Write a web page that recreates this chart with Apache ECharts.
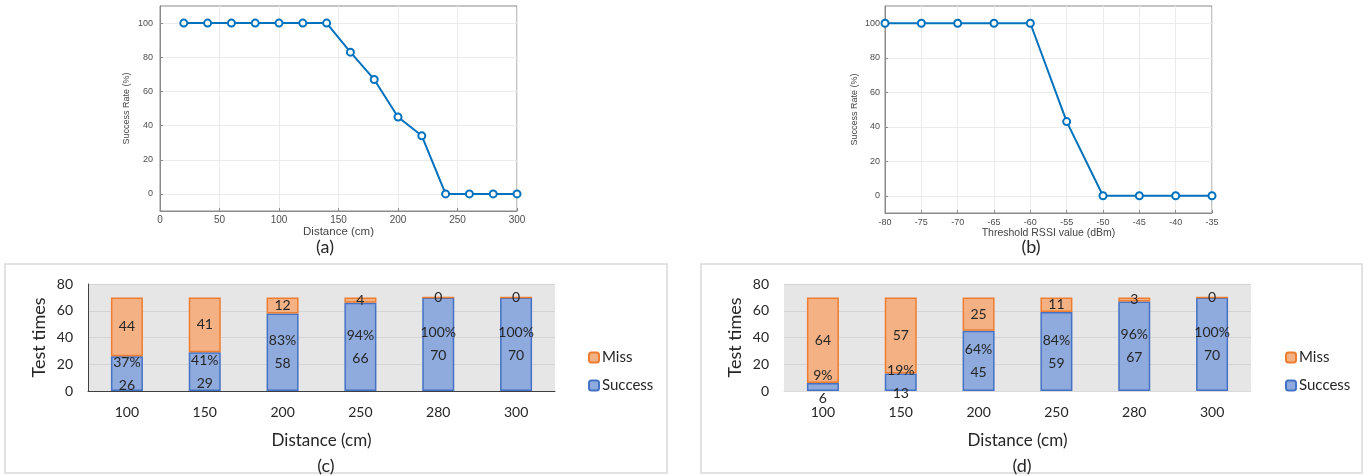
<!DOCTYPE html>
<html>
<head>
<meta charset="utf-8">
<script src="https://cdn.jsdelivr.net/npm/echarts@6/dist/echarts.min.js"></script>
<style>html,body{margin:0;padding:0;background:#fff}#c{width:1369px;height:476px}</style>
</head>
<body>
<div id="c"></div>
<script>
// (a) success rate vs distance
const distA = [20, 40, 60, 80, 100, 120, 140, 160, 180, 200, 220, 240, 260, 280, 300];
const rateA = [100, 100, 100, 100, 100, 100, 100, 83, 67, 45, 34, 0, 0, 0, 0];
const xTicksA = { min: 0, max: 300, interval: 50 };
// (b) success rate vs threshold RSSI
const rssiB = [-80, -75, -70, -65, -60, -55, -50, -45, -40, -35];
const rateB = [100, 100, 100, 100, 100, 43, 0, 0, 0, 0];
const xTicksB = { min: -80, max: -35, interval: 5 };
const rateTicks = [0, 20, 40, 60, 80, 100];
// (c) and (d) test times
const catsCD = ['100', '150', '200', '250', '280', '300'];
const successC = [26, 29, 58, 66, 70, 70];
const missC = [44, 41, 12, 4, 0, 0];
const successD = [6, 13, 45, 59, 67, 70];
const missD = [64, 57, 25, 11, 3, 0];

const chart = echarts.init(document.getElementById('c'));
const mFont = 'Liberation Sans';
const xFont = 'Lato';
const lineColor = '#0072BD';

function topX(gi, t, name, gap, lblMargin, nameSize, tickSize) {
  return {
    gridIndex: gi, type: 'value', min: t.min, max: t.max, interval: t.interval,
    name: name, nameLocation: 'middle', nameGap: gap,
    nameTextStyle: { fontFamily: mFont, fontSize: nameSize, color: '#444' },
    axisLine: { show: true, onZero: false, lineStyle: { color: '#8a8a8a', width: 1 } },
    axisTick: { show: true, inside: true, length: 3, lineStyle: { color: '#8a8a8a' } },
    axisLabel: { fontFamily: mFont, fontSize: tickSize, color: '#4d4d4d', margin: lblMargin },
    splitLine: { show: true, lineStyle: { color: '#ebebeb', width: 1 } }
  };
}
function topY(gi, gap, lblMargin, tickSize) {
  return {
    gridIndex: gi, type: 'value', min: -10, max: 110,
    name: 'Success Rate (%)', nameLocation: 'middle', nameGap: gap,
    nameTextStyle: { fontFamily: mFont, fontSize: 9, color: '#444' },
    axisLine: { show: true, onZero: false, lineStyle: { color: '#8a8a8a', width: 1 } },
    axisTick: { show: true, inside: true, length: 3, customValues: rateTicks, lineStyle: { color: '#8a8a8a' } },
    axisLabel: { fontFamily: mFont, fontSize: tickSize, color: '#4d4d4d', margin: lblMargin, customValues: rateTicks },
    splitLine: { show: true, lineStyle: { color: '#ebebeb', width: 1 } }
  };
}
function botX(gi, dark) {
  return {
    gridIndex: gi, type: 'category', data: catsCD,
    name: 'Distance (cm)', nameLocation: 'middle', nameGap: 41,
    nameTextStyle: { fontFamily: xFont, fontSize: 17, color: '#262626' },
    axisLine: { show: true, lineStyle: { color: dark ? '#404040' : '#d9d9d9', width: 1 } },
    axisTick: { show: false },
    axisLabel: { fontFamily: xFont, fontSize: 14, color: '#262626', margin: 14 },
    splitLine: { show: false }
  };
}
function botY(gi, dark) {
  return {
    gridIndex: gi, type: 'value', min: 0, max: 80, interval: 20,
    name: 'Test times', nameLocation: 'middle', nameGap: 40,
    nameTextStyle: { fontFamily: xFont, fontSize: 18, color: '#262626' },
    axisLine: { show: dark, lineStyle: { color: '#404040', width: 1 } },
    axisTick: { show: false },
    axisLabel: { fontFamily: xFont, fontSize: 14, color: '#262626', margin: 15 },
    splitLine: { show: true, lineStyle: { color: '#d4d4d4', width: 1 } }
  };
}
function barSeries(gi, succ, miss) {
  return [
    {
      name: 'Success', type: 'bar', stack: 's' + gi, xAxisIndex: gi, yAxisIndex: gi,
      data: succ, barWidth: 32,
      itemStyle: { color: '#8FAADC', borderColor: '#4472C4', borderWidth: 1.5 },
      label: {
        show: true, position: 'inside', fontFamily: xFont, fontSize: 14, color: '#262626', lineHeight: 23,
        formatter: p => Math.round(succ[p.dataIndex] / (succ[p.dataIndex] + miss[p.dataIndex]) * 100) + '%\n' + p.value
      }
    },
    {
      name: 'Miss', type: 'bar', stack: 's' + gi, xAxisIndex: gi, yAxisIndex: gi,
      data: miss, barWidth: 32,
      itemStyle: { color: '#F4B183', borderColor: '#ED7D31', borderWidth: 1.5 },
      label: { show: true, position: 'inside', fontFamily: xFont, fontSize: 14, color: '#262626' }
    }
  ];
}
function legendAt(left) {
  return {
    orient: 'vertical', left: left, top: 345, itemWidth: 10, itemHeight: 10, itemGap: 13,
    data: ['Miss', 'Success'],
    textStyle: { fontFamily: xFont, fontSize: 15, color: '#262626', padding: [0, 0, 0, -2] },
    selectedMode: false
  };
}
function subLabel(x, y, t) {
  return { type: 'text', x: x, y: y, silent: true, style: { text: t, font: '18px Lato', fill: '#262626', align: 'center', verticalAlign: 'middle' } };
}

const option = {
  animation: false,
  grid: [
    { left: 160, top: 6, width: 357, height: 205, show: true, borderColor: '#8a8a8a', borderWidth: 1, backgroundColor: '#fff' },
    { left: 885, top: 6, width: 327, height: 207, show: true, borderColor: '#8a8a8a', borderWidth: 1, backgroundColor: '#fff' },
    { left: 88, top: 284, width: 467, height: 107, show: true, backgroundColor: '#e7e6e6', borderWidth: 0 },
    { left: 784, top: 284, width: 467, height: 107, show: true, backgroundColor: '#e7e6e6', borderWidth: 0 }
  ],
  xAxis: [
    topX(0, xTicksA, 'Distance (cm)', 14, 4, 11.5, 10),
    topX(1, xTicksB, 'Threshold RSSI value (dBm)', 15, 5, 10.5, 9),
    botX(2, true),
    botX(3, false)
  ],
  yAxis: [
    topY(0, 29, 7, 9),
    topY(1, 26, 5, 9),
    botY(2, true),
    botY(3, false)
  ],
  legend: [legendAt(583), legendAt(1280)],
  series: [
    {
      type: 'line', xAxisIndex: 0, yAxisIndex: 0,
      data: distA.map((x, i) => [x, rateA[i]]),
      symbol: 'emptyCircle', symbolSize: 7,
      lineStyle: { color: lineColor, width: 2 },
      itemStyle: { color: lineColor, borderColor: lineColor, borderWidth: 2 }
    },
    {
      type: 'line', xAxisIndex: 1, yAxisIndex: 1,
      data: rssiB.map((x, i) => [x, rateB[i]]),
      symbol: 'emptyCircle', symbolSize: 7,
      lineStyle: { color: lineColor, width: 2 },
      itemStyle: { color: lineColor, borderColor: lineColor, borderWidth: 2 }
    },
    ...barSeries(2, successC, missC),
    ...barSeries(3, successD, missD)
  ],
  graphic: [
    { type: 'rect', shape: { x: 5, y: 264, width: 662, height: 209 }, style: { fill: 'none', stroke: '#d9d9d9', lineWidth: 1.5 }, silent: true, z: -10 },
    { type: 'rect', shape: { x: 701, y: 264, width: 661, height: 209 }, style: { fill: 'none', stroke: '#d9d9d9', lineWidth: 1.5 }, silent: true, z: -10 },
    subLabel(325, 247, '(a)'),
    subLabel(1031, 247, '(b)'),
    subLabel(326, 466, '(c)'),
    subLabel(1022, 466, '(d)')
  ]
};
chart.setOption(option);
</script>
</body>
</html>
